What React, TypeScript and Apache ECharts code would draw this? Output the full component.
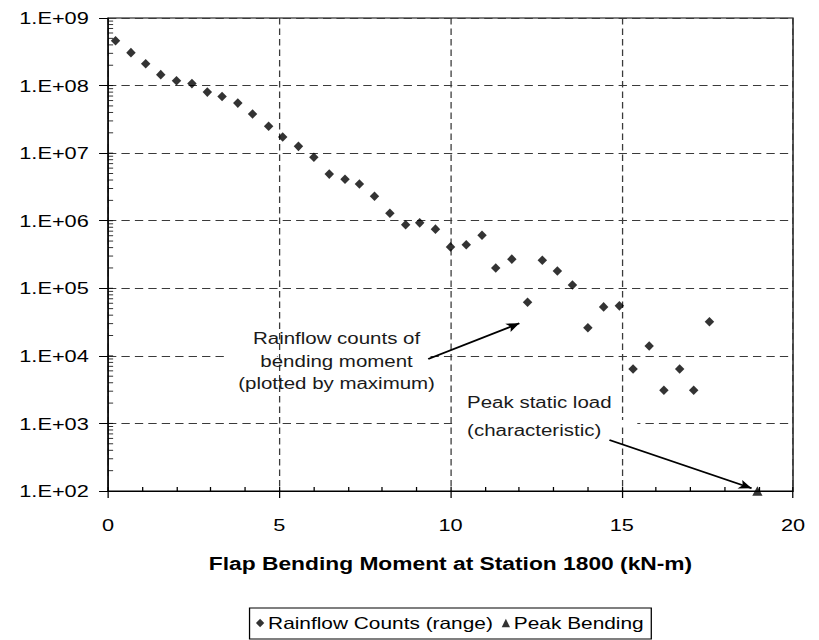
import React, { useEffect, useRef } from "react";
import * as echarts from "echarts";

// Rainflow counts (range): bending moment (kN-m) and counts
const rainflowX = [
  0.22, 0.67, 1.1, 1.54, 2.0, 2.45, 2.9, 3.33, 3.79, 4.22, 4.69, 5.1, 5.56, 6.01,
  6.46, 6.92, 7.34, 7.78, 8.23, 8.69, 9.1, 9.56, 10.0, 10.46, 10.92, 11.32, 11.79,
  12.25, 12.68, 13.12, 13.56, 14.01, 14.47, 14.93, 15.33, 15.8, 16.23, 16.69, 17.1, 17.56,
];
const rainflowY = [
  4.6e8, 3.07e8, 2.1e8, 1.45e8, 1.18e8, 1.07e8, 8.0e7, 6.9e7, 5.5e7, 3.8e7, 2.5e7,
  1.73e7, 1.26e7, 8.7e6, 4.9e6, 4.1e6, 3.5e6, 2.3e6, 1.29e6, 8.7e5, 9.3e5, 7.5e5,
  4.1e5, 4.4e5, 6.1e5, 2.0e5, 2.7e5, 6.2e4, 2.6e5, 1.8e5, 1.12e5, 2.6e4, 5.3e4, 5.5e4,
  6.4e3, 1.4e4, 3.1e3, 6.4e3, 3.1e3, 3.2e4,
];
// Peak bending
const peakX = [18.96];
const peakY = [100];

// Axis structure
const xTicks = [0, 5, 10, 15, 20];
const yDecades = [100, 1e3, 1e4, 1e5, 1e6, 1e7, 1e8];
const yMantissas = [1, 2, 3, 4, 5, 6, 7, 8, 9];

// Annotation anchors (data coordinates)
const arrowRainflow = [[9.35, 8970], [12.01, 30300]];
const arrowPeak = [[14.64, 569], [18.79, 110]];

const FONT = '"Liberation Sans", Arial, Helvetica, sans-serif';
const CW = 640;
const CH = 640;
const SX = 819 / 640;

export default function App() {
  const ref = useRef<HTMLDivElement | null>(null);

  useEffect(() => {
    if (!ref.current) return;
    const chart = echarts.init(ref.current, null, { renderer: "svg", width: CW, height: CH });

    const minorTickData: number[][] = [];
    yDecades.forEach((d) => {
      yMantissas.forEach((m) => {
        if (!(d === 100 && m === 1)) minorTickData.push([0, m * d]);
      });
    });

    const gridLine = { show: true, lineStyle: { type: [6.5, 4] as any, color: "#3a3a3a", width: 1 } };

    const option: any = {
      animation: false,
      textStyle: { fontFamily: FONT },
      grid: {
        left: 84.4,
        right: 20.3,
        top: 18,
        bottom: 149,
        show: true,
        borderColor: "#000",
        borderWidth: 1,
        backgroundColor: "transparent",
      },
      legend: {
        left: 195,
        top: 608,
        orient: "horizontal",
        itemWidth: 6.5,
        itemHeight: 8.5,
        itemGap: 7,
        padding: [7, 6, 8, 5],
        borderColor: "#000",
        borderWidth: 1,
        borderRadius: 0,
        textStyle: { fontFamily: FONT, fontSize: 16.3, color: "#000", padding: [0, 0, 0, -2] },
        data: [
          { name: "Rainflow Counts (range)", icon: "diamond" },
          { name: "Peak Bending", icon: "triangle" },
        ],
      },
      xAxis: [
        {
          type: "value",
          min: xTicks[0],
          max: xTicks[xTicks.length - 1],
          interval: 5,
          axisLine: { show: true, lineStyle: { color: "#000", width: 1 } },
          axisTick: { show: true, length: 7, lineStyle: { color: "#000" } },
          axisLabel: { fontSize: 17, color: "#000", margin: 25, fontFamily: FONT },
          splitLine: gridLine,
          name: "Flap Bending Moment at Station 1800 (kN-m)",
          nameLocation: "middle",
          nameGap: 63,
          nameTextStyle: { fontSize: 17.8, fontWeight: "bold", color: "#000", fontFamily: FONT },
        },
        {
          type: "value",
          min: 0,
          max: 20,
          interval: 1,
          position: "bottom",
          axisLine: { show: false },
          axisTick: { show: true, inside: true, length: 4, lineStyle: { color: "#000" } },
          axisLabel: { show: false },
          splitLine: { show: false },
        },
      ],
      yAxis: {
        type: "log",
        logBase: 10,
        min: 100,
        max: 1e9,
        splitNumber: 7,
        axisLine: { show: true, lineStyle: { color: "#000", width: 1 } },
        axisTick: { show: true, length: 7, lineStyle: { color: "#000" } },
        axisLabel: {
          fontSize: 17,
          color: "#000",
          margin: 15,
          fontFamily: FONT,
          formatter: (v: number) => "1.E+" + String(Math.round(Math.log10(v))).padStart(2, "0"),
        },
        splitLine: gridLine,
      },
      series: [
        {
          name: "yMinorTicks",
          type: "scatter",
          silent: true,
          clip: false,
          symbol: "rect",
          symbolSize: [4, 1],
          symbolOffset: [2, 0],
          itemStyle: { color: "#000" },
          z: 3,
          data: minorTickData,
        },
        {
          name: "Rainflow Counts (range)",
          type: "scatter",
          symbol: "diamond",
          symbolSize: [7.4, 9.6],
          itemStyle: { color: "#000" },
          z: 4,
          data: rainflowX.map((x, i) => [x, rainflowY[i]]),
          markLine: {
            silent: true,
            symbol: ["none", "arrow"],
            symbolSize: [7, 10],
            label: { show: false },
            lineStyle: { color: "#000", width: 1.7, type: "solid" },
            data: [
              [{ coord: arrowRainflow[0] }, { coord: arrowRainflow[1] }],
              [{ coord: arrowPeak[0] }, { coord: arrowPeak[1] }],
            ],
          },
        },
        {
          name: "Peak Bending",
          type: "scatter",
          symbol: "triangle",
          symbolSize: [8, 9.5],
          clip: false,
          itemStyle: { color: "#000" },
          z: 4,
          data: peakX.map((x, i) => [x, peakY[i]]),
        },
      ],
      graphic: [
        // white masks behind the annotation texts (only over horizontal grid lines)
        { type: "rect", z: 1, silent: true, shape: { x: 177.4, y: 352, width: 39, height: 7 }, style: { fill: "#fff" } },
        { type: "rect", z: 1, silent: true, shape: { x: 219.5, y: 352, width: 115, height: 7 }, style: { fill: "#fff" } },
        { type: "rect", z: 1, silent: true, shape: { x: 353.5, y: 420, width: 144.5, height: 7 }, style: { fill: "#fff" } },
        {
          type: "text",
          z: 5,
          silent: true,
          x: 263,
          y: 361,
          style: {
            text: "Rainflow counts of\nbending moment\n(plotted by maximum)",
            fontFamily: FONT,
            fontSize: 16,
            lineHeight: 22.5,
            fill: "#1a1a1a",
            align: "center",
            verticalAlign: "middle",
          },
        },
        {
          type: "text",
          z: 5,
          silent: true,
          x: 365,
          y: 402,
          style: {
            text: "Peak static load",
            fontFamily: FONT,
            fontSize: 16,
            fill: "#1a1a1a",
            align: "left",
            verticalAlign: "middle",
          },
        },
        {
          type: "text",
          z: 5,
          silent: true,
          x: 365,
          y: 430,
          style: {
            text: "(characteristic)",
            fontFamily: FONT,
            fontSize: 16,
            fill: "#1a1a1a",
            align: "left",
            verticalAlign: "middle",
          },
        },
      ],
    };

    chart.setOption(option);
    return () => {
      chart.dispose();
    };
  }, []);

  return (
    <div style={{ position: "absolute", left: 0, top: 0, width: 819, height: 640, overflow: "hidden", background: "#fff" }}>
      <div
        ref={ref}
        style={{ width: CW, height: CH, transform: `scaleX(${SX})`, transformOrigin: "0 0" }}
      />
    </div>
  );
}
